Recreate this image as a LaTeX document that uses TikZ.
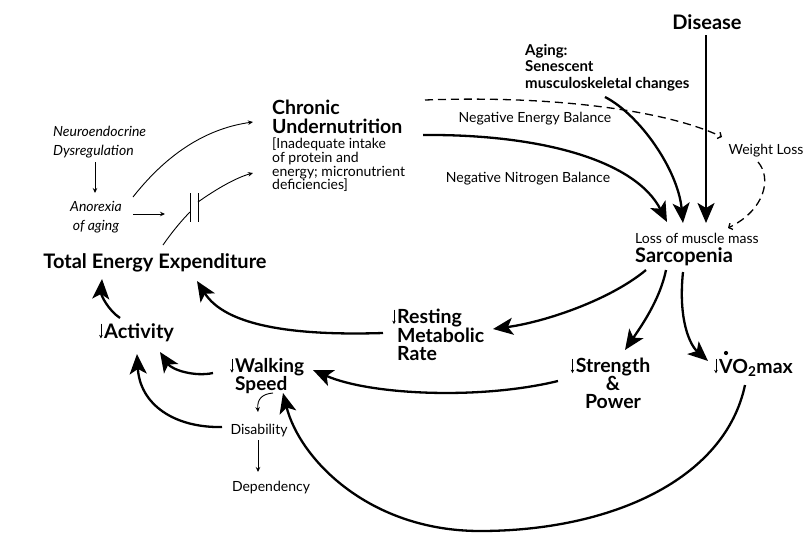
\documentclass[tikz,border=0pt]{standalone}
\usepackage{fontspec}
\setmainfont{Lato}
\usetikzlibrary{arrows.meta}
\newcommand{\dn}{\tikz[baseline=0pt]\draw[line width=0.9pt,-{Stealth[length=3.5pt,width=3.5pt]}] (0pt,0.72em) -- (0pt,-0.02em);\kern1.5pt}
\begin{document}
\begin{tikzpicture}[x=1pt,y=-1pt,
  big/.style={font=\fontsize{20}{18}\selectfont\bfseries, inner sep=0pt},
  mid/.style={font=\fontsize{15}{16.5}\selectfont\bfseries, inner sep=0pt},
  small/.style={font=\fontsize{14}{14}\selectfont, inner sep=0pt},
  ital/.style={font=\fontsize{14}{19}\selectfont\itshape, inner sep=0pt},
  thick arrow/.style={line width=2.3pt,-{Stealth[length=20pt,width=17pt,inset=5pt]}},
  thin arrow/.style={line width=0.9pt,-{Stealth[length=5pt,width=4.5pt]}},
  dash arrow/.style={line width=1.3pt,dash pattern=on 8pt off 5pt,-{Straight Barb[length=3pt,width=7pt]}}]
\useasboundingbox (0,0) rectangle (806,533);
% nodes
\node[big, anchor=base] (dis) at (707,29) {Disease};
\node[mid, anchor=north west, align=left] (aging) at (525,44) {Aging:\\Senescent\\musculoskeletal changes};
\node[big, anchor=north west, align=left, font=\fontsize{19.5}{18.5}\selectfont\bfseries] (chron) at (272,100) {Chronic\\Undernutrition};
\node[small, anchor=north west, align=left, font=\fontsize{14}{13.6}\selectfont] (chronsub) at (272,138) {[Inadequate intake\\of protein and\\energy; micronutrient\\deficiencies]};
\node[small, anchor=base] (neb) at (535,122) {Negative Energy Balance};
\node[small, anchor=base] (nnb) at (528,182) {Negative Nitrogen Balance};
\node[small, anchor=base] (wl) at (766,154) {Weight Loss};
\node[small, anchor=base west] (loss) at (635,243) {Loss of muscle mass};
\node[big, anchor=base west] (sarc) at (635,262) {Sarcopenia};
\node[ital, anchor=north west, align=left] (neuro) at (53,126) {Neuroendocrine\\Dysregulation};
\node[ital, anchor=north, align=center] (anor) at (96,201) {Anorexia\\of aging};
\node[big, anchor=base] (tee) at (155,268) {Total Energy Expenditure};
\node[big, anchor=base west] (act) at (104,338) {\llap{\dn}Activity};
\node[big, anchor=north west, align=left, font=\fontsize{19.5}{18}\selectfont\bfseries] (rmr) at (397,309) {\llap{\dn}Resting\\Metabolic\\Rate};
\node[big, anchor=north west, align=left, font=\fontsize{19}{17}\selectfont\bfseries] (walk) at (235,358) {\llap{\dn}Walking\\Speed};
\node[big, anchor=north, align=center, font=\fontsize{19.5}{18}\selectfont\bfseries] (str) at (613,358) {\llap{\dn}Strength\\\&\\Power};
\node[big, anchor=base west, font=\fontsize{19.5}{18}\selectfont\bfseries] (vo2) at (719,373) {\llap{\dn}VO\textsubscript{2}max};
\node[small, anchor=base] (dsb) at (259,434) {Disability};
\node[small, anchor=base] (dep) at (271,491) {Dependency};
\fill ([shift={(7,-20)}]vo2.base west) circle (2.1);
\coordinate (cap) at (194,207);
% capacitor bars
\draw[line width=1pt] ([shift={(-4,-14)}]cap) -- ([shift={(-4,15)}]cap);
\draw[line width=1pt] ([shift={(4,-14)}]cap) -- ([shift={(4,15)}]cap);
% thick arrows into sarcopenia
\draw[thick arrow] ([shift={(-1,6)}]dis.base) -- ([shift={(71,-20)}]loss.base west);
\draw[thick arrow] ([shift={(80,53)}]aging.north west) .. controls (640,115) and (678,170) .. ([shift={(48,-20)}]loss.base west);
\draw[thick arrow] ([shift={(151,35)}]chron.north west) .. controls (540,134) and (635,160) .. ([shift={(32,-21)}]loss.base west);
% dashed
\draw[dash arrow] ([shift={(153,0)}]chron.north west) .. controls (560,95) and (670,112) .. ([shift={(-44,-17)}]wl.base);
\draw[dash arrow] ([shift={(-8,8)}]wl.base) .. controls (772,178) and (765,210) .. ([shift={(93,-15)}]loss.base west);
% from sarcopenia
\draw[thick arrow] ([shift={(11,8)}]sarc.base west) .. controls (610,300) and (545,322) .. ([shift={(96,20)}]rmr.north west);
\draw[thick arrow] ([shift={(31,8)}]sarc.base west) .. controls (660,300) and (640,328) .. ([shift={(12,-8)}]str.north);
\draw[thick arrow] ([shift={(48,10)}]sarc.base west) .. controls (678,320) and (690,345) .. ([shift={(-11,-12)}]vo2.base west);
% to TEE / activity
\draw[thick arrow] ([shift={(-14,24)}]rmr.north west) .. controls (290,336) and (225,325) .. ([shift={(42,13)}]tee.base);
\draw[thick arrow] ([shift={(16,-20)}]act.base west) .. controls (108,310) and (101,295) .. ([shift={(-53,11)}]tee.base);
\draw[thick arrow] ([shift={(-22,15)}]walk.north west) .. controls (195,377) and (172,370) .. ([shift={(56,14)}]act.base west);
\draw[thick arrow] ([shift={(-37,-7)}]dsb.base) .. controls (175,428) and (140,405) .. ([shift={(33,16)}]act.base west);
\draw[thick arrow] ([shift={(-55,23)}]str.north) .. controls (480,400) and (370,395) .. ([shift={(78,12)}]walk.north west);
\draw[thick arrow] ([shift={(26,12)}]vo2.base west) .. controls (725,480) and (610,531) .. (480,531) .. controls (370,531) and (300,460) .. ([shift={(48,35)}]walk.north west);
% thin arrows
\draw[thin arrow] ([shift={(38,35)}]walk.north west) .. controls (262,394) and (257,399) .. ([shift={(-1,-22)}]dsb.base);
\draw[thin arrow] ([shift={(-1,6)}]dsb.base) -- ([shift={(-13,-19)}]dep.base);
\draw[thin arrow] ([shift={(42,36)}]neuro.north west) -- ([shift={(-1,-8)}]anor.north);
\draw[thin arrow] ([shift={(37,-4)}]anor.north) .. controls (170,150) and (210,128) .. ([shift={(-19,22)}]chron.north west);
\draw[thin arrow] ([shift={(37,13)}]anor.north) -- ([shift={(-29,7)}]cap);
\draw[line width=0.9pt] ([shift={(8,-23)}]tee.base) .. controls (172,232) and (182,220) .. ([shift={(-4,5)}]cap);
\draw[thin arrow] ([shift={(4,-5)}]cap) .. controls (215,190) and (235,178) .. ([shift={(-19,35)}]chronsub.north west);
\end{tikzpicture}
\end{document}
